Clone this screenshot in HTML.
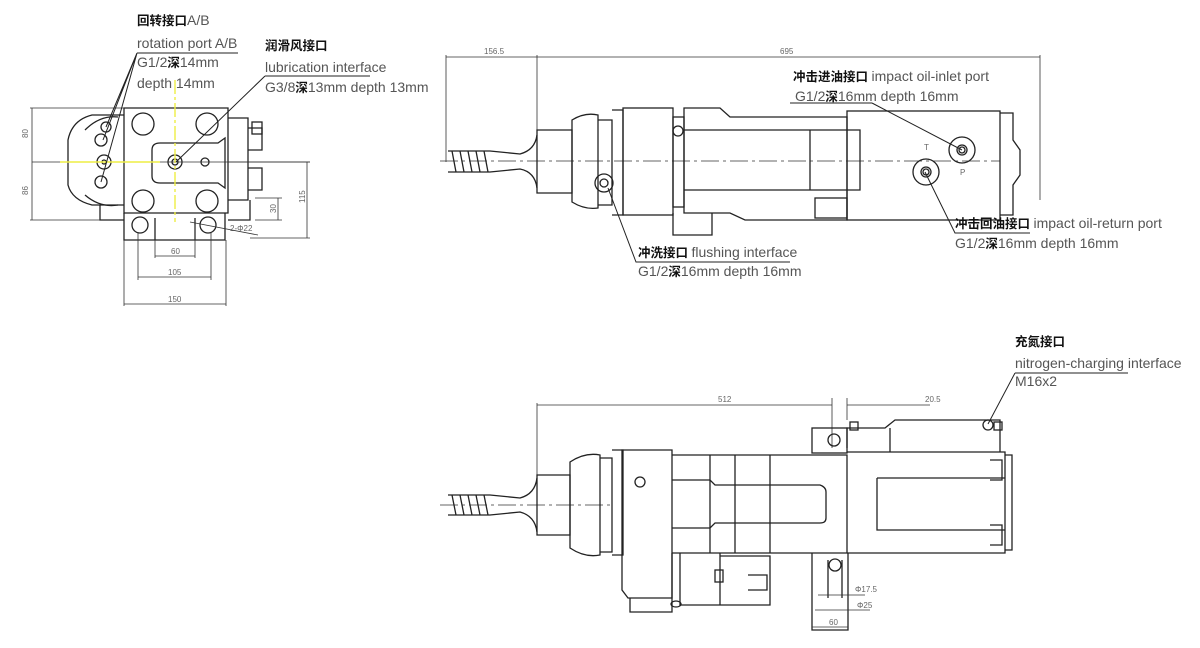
<!DOCTYPE html>
<html><head><meta charset="utf-8"><style>
html,body{margin:0;padding:0;background:#fff;width:1200px;height:648px;overflow:hidden}
svg{display:block}
.l{fill:none;stroke:#222;stroke-width:1.3}
.t{stroke:#222;stroke-width:1;fill:none}
.d{stroke:#333;stroke-width:0.8}
.c{stroke:#333;stroke-width:0.8;stroke-dasharray:18 4 3 4}
.en{font-family:"Liberation Sans",sans-serif;font-size:14px;fill:#555}
.cn{font-family:"Liberation Sans","Noto Sans CJK SC",sans-serif;font-size:12.5px;font-weight:bold;fill:#111}
.dim{font-family:"Liberation Sans",sans-serif;font-size:8px;fill:#666}
</style></head><body>
<svg width="1200" height="648" viewBox="0 0 1200 648" xmlns="http://www.w3.org/2000/svg">
<g>
<path class="l" d="M124 108 H228 V213 H124 Z"/>
<path class="l" d="M124 115 H92 Q72 120 68 140 V185 Q72 200 92 205 H124"/>
<path class="l" d="M85 130 Q100 115 118 117 M85 195 Q100 208 118 205"/>
<path class="l" d="M228 118 H248 V200 H228 M248 128 H262 V150 H248 M248 168 H262 V190 H248"/>
<rect class="l" x="252" y="122" width="10" height="12"/>
<path class="l" d="M152 150 Q152 143 160 143 H218 L225 138 V188 L218 183 H160 Q152 183 152 176 Z"/>
<circle class="l" cx="143" cy="124" r="11"/><circle class="l" cx="207" cy="124" r="11"/>
<circle class="l" cx="143" cy="201" r="11"/><circle class="l" cx="207" cy="201" r="11"/>
<circle class="l" cx="175" cy="162" r="7"/><circle class="l" cx="175" cy="162" r="3"/>
<circle class="l" cx="205" cy="162" r="4"/>
<circle class="l" cx="106" cy="127" r="5"/><circle class="l" cx="101" cy="140" r="6"/>
<circle class="l" cx="104" cy="162" r="7"/><circle class="l" cx="104" cy="162" r="2"/>
<circle class="l" cx="101" cy="182" r="6"/>
<path class="l" d="M100 205 V220 H124 M124 213 V240 H225 V213 M155 218 V240 M195 218 V240"/>
<circle class="l" cx="140" cy="225" r="8"/><circle class="l" cx="208" cy="225" r="8"/>
<path class="l" d="M250 200 V220 H228"/>
<line class="d" x1="32" y1="162" x2="310" y2="162"/>
<line x1="60" y1="162" x2="160" y2="162" stroke="#ee4" stroke-width="1.4"/>
<line x1="175" y1="80" x2="175" y2="222" stroke="#ee4" stroke-width="1.4" stroke-dasharray="14 3 3 3"/>
<path class="d" d="M30 108 H124 M30 220 H100 M32 108 V220 M228 162 H310 M250 238 H310 M307 162 V238 M255 198 H282 M255 220 H282 M278 198 V220"/>
<text class="dim" transform="translate(28,138) rotate(-90)">80</text>
<text class="dim" transform="translate(28,195) rotate(-90)">86</text>
<text class="dim" transform="translate(305,203) rotate(-90)">115</text>
<text class="dim" transform="translate(276,213) rotate(-90)">30</text>
<path class="d" d="M155 240 V258 M195 225 V258 M155 256 H195 M138 232 V280 M211 232 V280 M138 277 H211 M124 240 V306 M226 240 V306 M124 304 H226"/>
<text class="dim" x="171" y="254">60</text><text class="dim" x="168" y="275">105</text><text class="dim" x="168" y="302">150</text>
<path class="d" d="M190 222 L258 235"/><text class="dim" x="230" y="231">2-Φ22</text>
<path class="t" d="M137 53 H238 M137 53 L103 140 M137 53 L101 182 M137 53 L106 127"/>
<path class="t" d="M265 76 H370 M265 76 L176 162"/>
<text class="cn" x="137" y="25">回转接口<tspan class="en" font-weight="normal" fill="#111">A/B</tspan></text>
<text class="en" x="137" y="48">rotation port A/B</text>
<text class="en" x="137" y="67">G1/2<tspan class="cn">深</tspan>14mm</text>
<text class="en" x="137" y="88">depth 14mm</text>
<text class="cn" x="265" y="50">润滑风接口</text>
<text class="en" x="265" y="72">lubrication interface</text>
<text class="en" x="265" y="92">G3/8<tspan class="cn">深</tspan>13mm depth 13mm</text>
</g>

<g>
<path class="d" d="M446 55 V162 M537 55 V132 M1040 55 V200 M446 57 H1040"/>
<text class="dim" x="484" y="54">156.5</text><text class="dim" x="780" y="54">695</text>
<line class="c" x1="440" y1="161" x2="1000" y2="161"/>
<path class="l" d="M448 151 H490 L520 154 Q535 150 537 135 M448 172 H490 L520 169 Q535 172 537 188"/>
<path class="l" d="M452 151 L456 172 M460 151 L464 172 M468 151 L472 172 M476 151 L480 172 M484 151 L488 172"/>
<path class="l" d="M537 130 H572 V193 H537 Z"/>
<path class="l" d="M572 120 Q585 112 598 115 V208 Q585 210 572 202 Z"/>
<path class="l" d="M598 120 H612 V205 H598 M612 110 H623 V215 H612"/>
<rect class="l" x="623" y="108" width="50" height="107"/>
<rect class="l" x="673" y="117" width="11" height="90"/>
<path class="l" d="M684 108 H720 L730 117 H847 V220 H745 L730 213 H684 Z"/>
<path class="l" d="M684 130 H770 M684 190 H770 M755 130 H860 V190 H755 M810 130 V190"/>
<path class="l" d="M673 213 V235 H712 V213"/>
<rect class="l" x="815" y="198" width="32" height="20"/>
<rect class="l" x="847" y="111" width="153" height="109"/>
<path class="l" d="M1000 113 H1013 V140 L1020 150 V175 L1013 185 V215 H1000"/>
<circle class="l" cx="678" cy="131" r="5"/>
<circle class="l" cx="604" cy="183" r="9"/><circle class="l" cx="604" cy="183" r="4"/>
<circle class="l" cx="962" cy="150" r="13"/><circle class="l" cx="962" cy="150" r="5"/><circle class="l" cx="962" cy="150" r="3"/>
<circle class="l" cx="926" cy="172" r="13"/><circle class="l" cx="926" cy="172" r="5"/><circle class="l" cx="926" cy="172" r="3"/>
<text class="dim" x="924" y="150" fill="#222">T</text><text class="dim" x="960" y="175" fill="#222">P</text>
<path class="t" d="M608 188 L636 262 H790"/>
<path class="t" d="M925 172 L955 233 H1030"/>
<path class="t" d="M872 103 L962 150 M790 103 H872"/>
<text class="cn" x="793" y="81">冲击进油接口 <tspan class="en" font-weight="normal">impact oil-inlet port</tspan></text>
<text class="en" x="795" y="101">G1/2<tspan class="cn">深</tspan>16mm depth 16mm</text>
<text class="cn" x="638" y="257">冲洗接口 <tspan class="en" font-weight="normal">flushing interface</tspan></text>
<text class="en" x="638" y="276">G1/2<tspan class="cn">深</tspan>16mm depth 16mm</text>
<text class="cn" x="955" y="228">冲击回油接口 <tspan class="en" font-weight="normal">impact oil-return port</tspan></text>
<text class="en" x="955" y="248">G1/2<tspan class="cn">深</tspan>16mm depth 16mm</text>
</g>

<g>
<path class="d" d="M537 403 V478 M537 405 H832 M832 398 V448 M847 398 V420 M847 405 H930"/>
<text class="dim" x="718" y="402">512</text><text class="dim" x="925" y="402">20.5</text>
<line class="c" x1="440" y1="505" x2="610" y2="505"/>
<path class="l" d="M448 495 H490 L520 498 Q535 494 537 478 M448 515 H490 L520 512 Q535 516 537 532"/>
<path class="l" d="M452 495 L456 515 M460 495 L464 515 M468 495 L472 515 M476 495 L480 515 M484 495 L488 515"/>
<path class="l" d="M537 475 H570 V535 H537 Z"/>
<path class="l" d="M570 462 Q585 452 600 455 V555 Q585 558 570 548 Z"/>
<path class="l" d="M600 458 H612 V552 H600 M612 450 H623 V555 H612"/>
<path class="l" d="M622 450 H672 V598 H628 L622 590 Z"/>
<path class="l" d="M672 455 H847 V553 H672 M672 553 V612 H630 V598 M710 455 V553 M735 455 V553 M770 455 V553"/>
<path class="l" d="M672 480 H710 L715 485 H820 Q826 487 826 492 V518 Q826 523 820 523 H715 L710 528 H672"/>
<path class="l" d="M680 553 V605 H720 V553 M720 556 H770 V605 H720 M748 575 H767 V590 H748"/>
<rect class="l" x="715" y="570" width="8" height="12"/>
<circle class="l" cx="640" cy="482" r="5"/>
<ellipse class="l" cx="676" cy="604" rx="5" ry="3"/>
<rect class="l" x="812" y="428" width="35" height="25"/>
<circle class="l" cx="834" cy="440" r="6"/>
<path class="l" d="M847 452 H1005 V553 H847 M847 448 V428 H885 L895 420 H1000 V452 M890 428 V452"/>
<rect class="l" x="850" y="422" width="8" height="8"/><rect class="l" x="994" y="422" width="8" height="8"/>
<circle class="l" cx="988" cy="425" r="5"/>
<path class="l" d="M1005 455 H1012 V550 H1005 M990 460 H1002 V480 H990 M990 525 H1002 V545 H990 M877 478 H1005 M877 478 V530 H1005"/>
<path class="l" d="M812 553 V630 H848 V553 M828 560 V598 M842 560 V598"/>
<circle class="l" cx="835" cy="565" r="6"/>
<path class="d" d="M818 595 H865 M815 610 H870 M812 627 H848"/>
<text class="dim" x="855" y="592">Φ17.5</text><text class="dim" x="857" y="608">Φ25</text><text class="dim" x="829" y="625">60</text>
<path class="t" d="M1015 373 L988 424 M1015 373 H1128"/>
<text class="cn" x="1015" y="346">充氮接口</text>
<text class="en" x="1015" y="368">nitrogen-charging interface</text>
<text class="en" x="1015" y="386">M16x2</text>
</g>
</svg>
</body></html>
